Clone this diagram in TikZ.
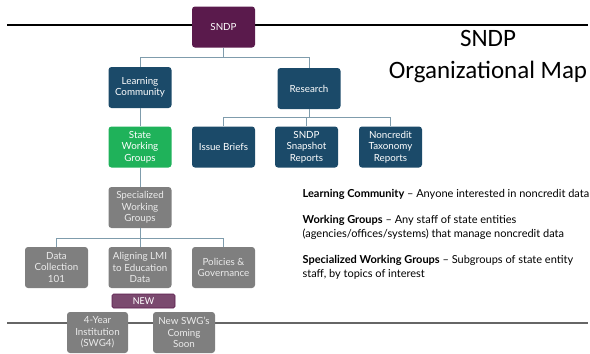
\documentclass[tikz,border=0pt]{standalone}
\usepackage{fontspec}
\setmainfont{Lato}
\newfontfamily\titlefont{Carlito}
\usetikzlibrary{positioning}
\definecolor{sndppurple}{HTML}{5A1A4C}
\definecolor{newpurple}{HTML}{7B4A6F}
\definecolor{teal}{HTML}{1B4A69}
\definecolor{swggreen}{HTML}{1FB25A}
\definecolor{boxgray}{HTML}{7F7F7F}
\definecolor{linkblue}{HTML}{7F9CAC}

\begin{document}
\begin{tikzpicture}[x=1pt,y=-1pt,semithick,
    unit/.style={rounded corners=3pt,minimum width=63pt,minimum height=41pt,
      align=center,font=\fontsize{9.8}{11.3}\selectfont,inner sep=1pt},
    teambox/.style={unit,fill=teal,text=white},
    graybox/.style={unit,fill=boxgray,text=white!92!black},
    legend/.style={anchor=base west,font=\fontsize{11}{14}\selectfont,align=left},
    link/.style={draw=linkblue,thick}]
        \useasboundingbox (0,0) rectangle (590,354);
        \draw [line width=1.6pt] (7,25)--(588,25);
        \draw [line width=1.4pt,black!60] (7,323)--(588,323);

        \node [unit,fill=sndppurple,text=white] (sndp) at (223.5,27) {SNDP};
        \node [teambox] (lc) at (140,87.5) {Learning\\Community};
        \node [teambox] (research) at (309,88.5) {Research};
        \node [unit,fill=swggreen,text=white] (swg) at (140,147) {State\\Working\\Groups};
        \node [teambox] (briefs) at (223.5,147) {Issue Briefs};
        \node [teambox] (snapshot) at (306.5,147) {SNDP\\Snapshot\\Reports};
        \node [teambox] (taxonomy) at (390.5,147) {Noncredit\\Taxonomy\\Reports};
        \node [graybox] (special) at (140,207.5) {Specialized\\Working\\Groups};
        \node [graybox] (datacoll) at (56.5,267.5) {Data\\Collection\\101};
        \node [graybox] (lmi) at (140,267.5) {Aligning LMI\\to Education\\Data};
        \node [graybox] (policies) at (223.5,267.5) {Policies \&\\Governance};
        \node [rounded corners=1.5pt,fill=newpurple,draw=sndppurple,text=white,
          minimum width=63pt,minimum height=14pt,inner sep=0pt,
          font=\titlefont\fontsize{10.5}{10.5}\selectfont] (new) at (143.5,301) {NEW};
        \node [graybox,minimum width=61pt] (swg4) at (97.5,332.5) {4-Year\\Institution\\(SWG4)};
        \node [graybox,minimum width=62pt] (coming) at (184,332.5) {New SWG's\\Coming\\Soon};

        \draw [link] (sndp.south)--++(0,10)-|(lc.north);
        \draw [link] (sndp.south)++(0,10)-|(research.north);
        \draw [link] (lc)--(swg);
        \draw [link] (research.south)--++(0,8)-|(briefs.north);
        \draw [link] (research.south)++(0,8)-|(snapshot.north);
        \draw [link] (research.south)++(0,8)-|(taxonomy.north);
        \draw [link] (swg)--(special);
        \draw [link] (special.south)--++(0,10)-|(datacoll.north);
        \draw [link] (special.south)++(0,10)-|(policies.north);
        \draw [link] (special)--(lmi);

        \node [font=\titlefont\fontsize{25}{32}\selectfont,align=center] (title) at (488,57) {SNDP\\Organizational Map};

        % base anchor sits on the last line
        \node [legend] (legendlc) at (299,197)
          {\textbf{Learning Community} -- Anyone interested in noncredit data};
        \node [legend] (legendwg) at (299,237)
          {\textbf{Working Groups} -- Any staff of state entities\\(agencies/offices/systems) that manage noncredit data};
        \node [legend] (legendswg) at (299,277)
          {\textbf{Specialized Working Groups} -- Subgroups of state entity\\staff, by topics of interest};
\end{tikzpicture}
\end{document}
